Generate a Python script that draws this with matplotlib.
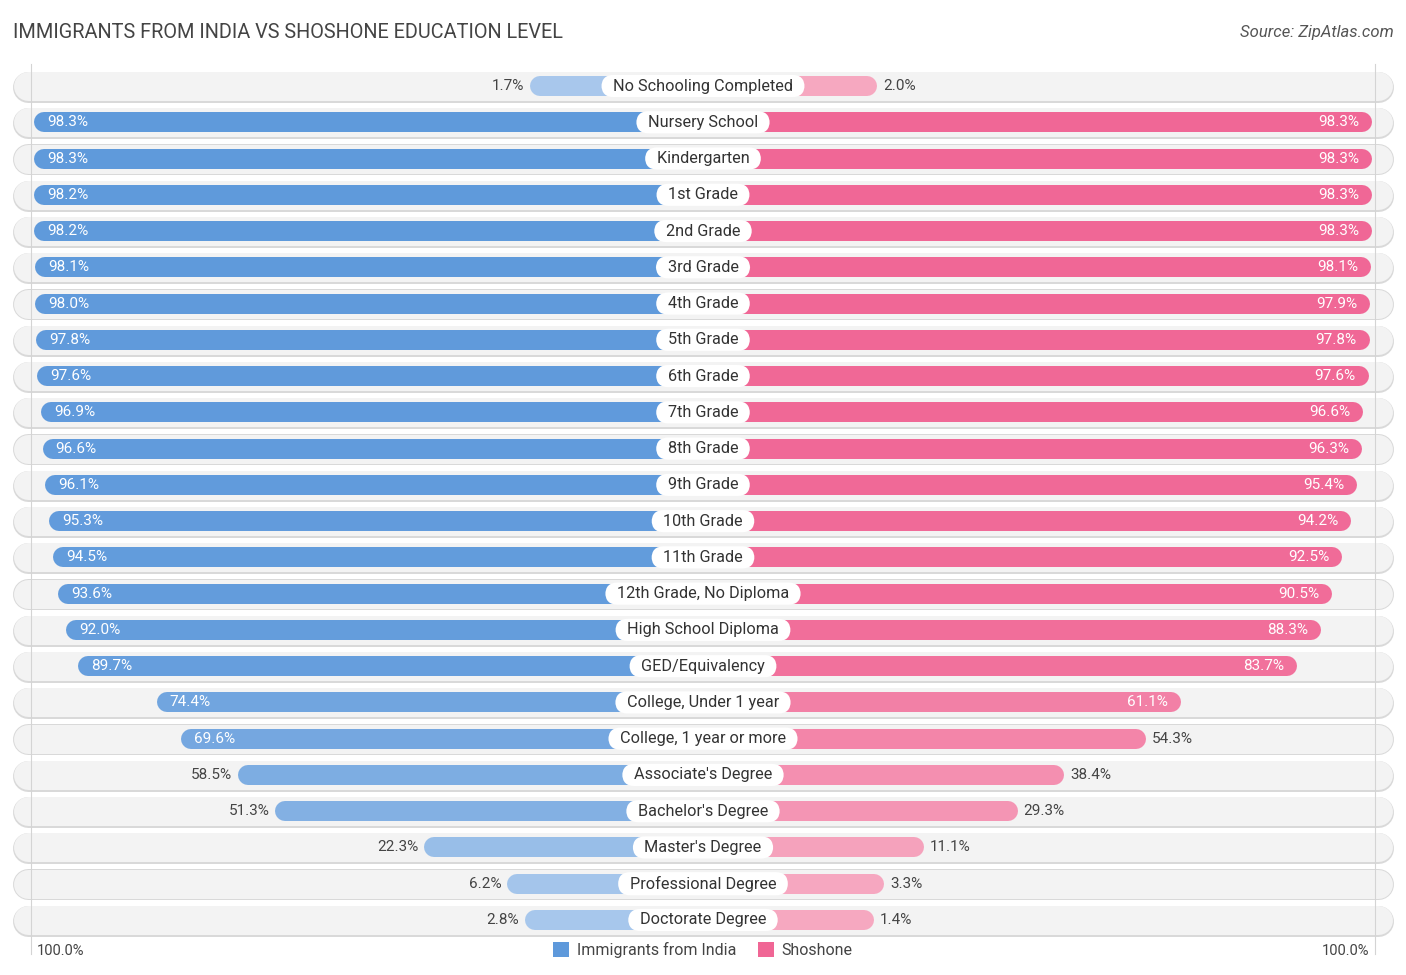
import matplotlib
matplotlib.use("Agg")
import numpy as np
import matplotlib.pyplot as plt
from matplotlib.patches import Rectangle

plt.rcParams['font.family'] = ['Roboto', 'DejaVu Sans']

categories = ["No Schooling Completed", "Nursery School", "Kindergarten", "1st Grade",
              "2nd Grade", "3rd Grade", "4th Grade", "5th Grade", "6th Grade",
              "7th Grade", "8th Grade", "9th Grade", "10th Grade", "11th Grade",
              "12th Grade, No Diploma", "High School Diploma", "GED/Equivalency",
              "College, Under 1 year", "College, 1 year or more", "Associate's Degree",
              "Bachelor's Degree", "Master's Degree", "Professional Degree",
              "Doctorate Degree"]
india = [1.7, 98.3, 98.3, 98.2, 98.2, 98.1, 98.0, 97.8, 97.6, 96.9, 96.6, 96.1,
         95.3, 94.5, 93.6, 92.0, 89.7, 74.4, 69.6, 58.5, 51.3, 22.3, 6.2, 2.8]
shoshone = [2.0, 98.3, 98.3, 98.3, 98.3, 98.1, 97.9, 97.8, 97.6, 96.6, 96.3, 95.4,
            94.2, 92.5, 90.5, 88.3, 83.7, 61.1, 54.3, 38.4, 29.3, 11.1, 3.3, 1.4]
series_names = ["Immigrants from India", "Shoshone"]

W, H = 1406, 975
DPI = 100
PX = 5.14          # pixels per percent
OFFSET = 31.9      # bar stub hidden behind label (in percent units)
CX = 703           # centre pixel
ROW0, ROWSTEP = 86, 36.26

fig = plt.figure(figsize=(W / DPI, H / DPI), dpi=DPI)
ax = fig.add_axes([0, 0, 1, 1])
ax.set_xlim(-CX / PX, (W - CX) / PX)
ax.set_ylim((H - ROW0) / ROWSTEP, -ROW0 / ROWSTEP)
ax.axis('off')

def pt(px):
    return px * 72 / DPI

blue_hi = np.array([0x5e, 0x99, 0xdb]) / 255
blue_lo = np.array([0xa9, 0xc8, 0xec]) / 255
pink_hi = np.array([0xf0, 0x66, 0x95]) / 255
pink_lo = np.array([0xf6, 0xa9, 0xc1]) / 255

def shade(lo, hi, v):
    t = v / 100
    return tuple(lo + (hi - lo) * t)

r_bg = 15 / PX
r_bar = 10 / PX
half_bg = (CX - 13) / PX
n = len(categories)

# thin vertical guide lines
gx = (CX - 31) / PX
for sx in (-1, 1):
    ax.plot([sx * gx, sx * gx], [-0.6, n - 0.05], color='#d4d4d4', lw=0.8, zorder=1)

for i, (cat, a, b) in enumerate(zip(categories, india, shoshone)):
    # row background pill with soft shadow
    ax.plot([-half_bg + r_bg, half_bg - r_bg], [i + 0.02, i + 0.02], color='#d9d9d9',
            lw=pt(31), solid_capstyle='round', zorder=0)
    ax.plot([-half_bg + r_bg, half_bg - r_bg], [i, i], color='#f3f3f3',
            lw=pt(29), solid_capstyle='round', zorder=0.5)

    la = OFFSET + a
    lb = OFFSET + b
    ax.plot([-la + r_bar, 0], [i, i], color=shade(blue_lo, blue_hi, a),
            lw=pt(20), solid_capstyle='round', zorder=2)
    ax.plot([0, lb - r_bar], [i, i], color=shade(pink_lo, pink_hi, b),
            lw=pt(20), solid_capstyle='round', zorder=2)

    if a >= 60:
        ax.text(-la + 13 / PX, i, f"{a:.1f}%", ha='left', va='center',
                color='white', fontsize=11, zorder=4)
    else:
        ax.text(-la - 6 / PX, i, f"{a:.1f}%", ha='right', va='center',
                color='#444444', fontsize=11, zorder=4)
    if b >= 60:
        ax.text(lb - 13 / PX, i, f"{b:.1f}%", ha='right', va='center',
                color='white', fontsize=11, zorder=4)
    else:
        ax.text(lb + 6 / PX, i, f"{b:.1f}%", ha='left', va='center',
                color='#444444', fontsize=11, zorder=4)

    ax.text(0, i, f"  {cat}  ", ha='center', va='center', fontsize=11.7,
            color='#333333', zorder=5,
            bbox=dict(boxstyle='round,pad=0.22,rounding_size=0.75', fc='white',
                      ec='none'))

# bottom axis labels
ax.text(-(CX - 37) / PX, n - 0.15, "100.0%", ha='left', va='center',
        fontsize=10.5, color='#444444')
ax.text((1369 - CX) / PX, n - 0.15, "100.0%", ha='right', va='center',
        fontsize=10.5, color='#444444')

# legend
handles = [Rectangle((0, 0), 1, 1, fc=tuple(blue_hi), ec='none'),
           Rectangle((0, 0), 1, 1, fc=tuple(pink_hi), ec='none')]
fig.legend(handles, series_names, loc='center', bbox_to_anchor=(0.5, 1 - 950 / H),
           ncol=2, frameon=False, fontsize=11.5, handlelength=1.0, handleheight=1.0,
           handletextpad=0.5, columnspacing=1.3, labelcolor='#444444')

fig.text(13 / W, 1 - 33 / H, "IMMIGRANTS FROM INDIA VS SHOSHONE EDUCATION LEVEL",
         ha='left', va='center', fontsize=14.3, color='#444444')
fig.text(1394 / W, 1 - 33 / H, "Source: ZipAtlas.com", ha='right', va='center',
         fontsize=12, color='#555555', style='italic')

fig.savefig("out.png", dpi=DPI, facecolor='white')
